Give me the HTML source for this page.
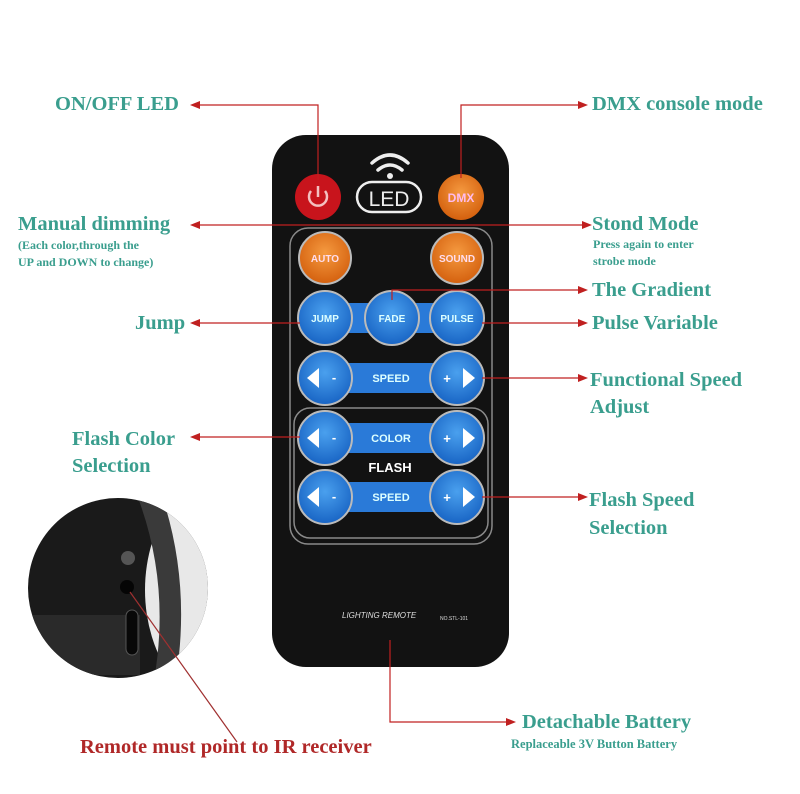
<!DOCTYPE html>
<html><head><style>
body{margin:0;width:800px;height:794px;background:#fff;overflow:hidden;position:relative;font-family:"Liberation Serif",serif}
.t{position:absolute;color:#3a9e8e;font-weight:bold;font-size:20.5px;white-space:nowrap}
.s{position:absolute;color:#3a9e8e;font-weight:bold;font-size:12px;line-height:17px;white-space:nowrap}
</style></head><body>
<svg width="800" height="794" style="position:absolute;left:0;top:0" font-family="Liberation Sans, sans-serif">
<defs>
<radialGradient id="bl" cx="50%" cy="40%" r="60%"><stop offset="0" stop-color="#4aa0ee"/><stop offset="1" stop-color="#1864c4"/></radialGradient>
<radialGradient id="or" cx="50%" cy="40%" r="60%"><stop offset="0" stop-color="#f59a40"/><stop offset="1" stop-color="#d4600e"/></radialGradient>
</defs>
<clipPath id="cc"><circle cx="118" cy="588" r="90"/></clipPath>
<g clip-path="url(#cc)">
<rect x="20" y="490" width="200" height="200" fill="#1a1a1a"/>
<ellipse cx="240" cy="590" rx="95" ry="125" fill="#e8e8e8"/>
<path d="M135 490 Q175 590 150 700 L172 700 Q195 590 160 490Z" fill="#3a3a3a"/>
<rect x="30" y="615" width="110" height="60" fill="#2a2a2a"/>
<circle cx="128" cy="558" r="7" fill="#555"/>
<circle cx="127" cy="587" r="7" fill="#050505"/>
<rect x="126" y="610" width="12" height="45" rx="6" fill="#080808" stroke="#555"/>
</g>
<line x1="130" y1="592" x2="237" y2="742" stroke="#a03030" stroke-width="1.2"/>
<rect x="272" y="135" width="237" height="532" rx="34" fill="#121212"/>
<rect x="290" y="228" width="202" height="316" rx="18" fill="none" stroke="#8a8a8a" stroke-width="1.5"/>
<rect x="294" y="408" width="194" height="130" rx="16" fill="none" stroke="#8a8a8a" stroke-width="1.5"/>
<g fill="none" stroke="#eee" stroke-width="3.5" stroke-linecap="round">
<path d="M372 163 Q390 147 408 163"/><path d="M378 170 Q390 160 402 170"/></g>
<circle cx="390" cy="176" r="3" fill="#eee"/>
<rect x="357" y="182" width="64" height="30" rx="15" fill="none" stroke="#eee" stroke-width="2.5"/>
<text x="389" y="206" font-size="21" fill="#eee" text-anchor="middle">LED</text>
<circle cx="318" cy="197" r="23" fill="#c8141c"/>
<path d="M311 191 A9 9 0 1 0 325 191" fill="none" stroke="#f4c0c0" stroke-width="2.5"/><line x1="318" y1="186" x2="318" y2="197" stroke="#f4c0c0" stroke-width="2.5"/>
<circle cx="461" cy="197" r="23" fill="url(#or)"/>
<text x="461" y="202" font-size="12" font-weight="bold" fill="#fbe" text-anchor="middle">DMX</text>
<g stroke="#bbb" stroke-width="2">
<circle cx="325" cy="258" r="26" fill="url(#or)"/><circle cx="457" cy="258" r="26" fill="url(#or)"/>
</g>
<g font-size="10" font-weight="bold" fill="#fde" text-anchor="middle"><text x="325" y="262">AUTO</text><text x="457" y="262">SOUND</text></g>
<g fill="#2a7ad8"><rect x="325" y="303" width="132" height="30"/><rect x="325" y="363" width="132" height="30"/><rect x="325" y="423" width="132" height="30"/><rect x="325" y="482" width="132" height="30"/></g>
<g stroke="#bbb" stroke-width="2" fill="url(#bl)">
<circle cx="325" cy="318" r="27"/><circle cx="392" cy="318" r="27"/><circle cx="457" cy="318" r="27"/>
<circle cx="325" cy="378" r="27"/><circle cx="457" cy="378" r="27"/>
<circle cx="325" cy="438" r="27"/><circle cx="457" cy="438" r="27"/>
<circle cx="325" cy="497" r="27"/><circle cx="457" cy="497" r="27"/>
</g>
<g font-size="10" font-weight="bold" fill="#dff" text-anchor="middle">
<text x="325" y="322">JUMP</text><text x="392" y="322">FADE</text><text x="457" y="322">PULSE</text>
<text x="391" y="382" font-size="11">SPEED</text><text x="391" y="442" font-size="11">COLOR</text><text x="391" y="501" font-size="11">SPEED</text></g>
<text x="390" y="472" font-size="13" font-weight="bold" fill="#fff" text-anchor="middle">FLASH</text>
<g fill="#fff">
<path d="M307 378 L319 368 L319 388Z"/><path d="M307 438 L319 428 L319 448Z"/><path d="M307 497 L319 487 L319 507Z"/>
<path d="M475 378 L463 368 L463 388Z"/><path d="M475 438 L463 428 L463 448Z"/><path d="M475 497 L463 487 L463 507Z"/>
</g>
<g font-size="13" font-weight="bold" fill="#fff" text-anchor="middle">
<text x="334" y="382">-</text><text x="334" y="442">-</text><text x="334" y="501">-</text>
<text x="447" y="383">+</text><text x="447" y="443">+</text><text x="447" y="502">+</text></g>
<text x="342" y="618" font-size="8" font-style="italic" fill="#ddd">LIGHTING   REMOTE</text>
<text x="440" y="620" font-size="5" fill="#ddd">NO.STL-101</text>
<g stroke="#c02020" stroke-width="1.2" fill="none">
<polyline points="198,105 318,105 318,180"/>
<polyline points="461,178 461,105 580,105"/>
<line x1="196" y1="225" x2="584" y2="225"/>
<polyline points="392,300 392,290 580,290"/>
<line x1="196" y1="323" x2="300" y2="323"/>
<line x1="482" y1="323" x2="580" y2="323"/>
<line x1="482" y1="378" x2="580" y2="378"/>
<line x1="196" y1="437" x2="300" y2="437"/>
<line x1="482" y1="497" x2="580" y2="497"/>
<polyline points="390,640 390,722 508,722"/>
</g>
<g fill="#c02020">
<path d="M190 105 L200 101 L200 109Z"/><path d="M588 105 L578 101 L578 109Z"/>
<path d="M190 225 L200 221 L200 229Z"/><path d="M592 225 L582 221 L582 229Z"/>
<path d="M588 290 L578 286 L578 294Z"/>
<path d="M190 323 L200 319 L200 327Z"/><path d="M588 323 L578 319 L578 327Z"/>
<path d="M588 378 L578 374 L578 382Z"/>
<path d="M190 437 L200 433 L200 441Z"/><path d="M588 497 L578 493 L578 501Z"/>
<path d="M516 722 L506 718 L506 726Z"/>
</g>
</svg>
<div class="t" style="left:55px;top:93px">ON/OFF LED</div>
<div class="t" style="left:592px;top:93px">DMX console mode</div>
<div class="t" style="left:18px;top:213px">Manual dimming</div>
<div class="s" style="left:18px;top:237px">(Each color,through the<br>UP and DOWN to change)</div>
<div class="t" style="left:592px;top:213px">Stond Mode</div>
<div class="s" style="left:593px;top:236px">Press again to enter<br>strobe mode</div>
<div class="t" style="left:592px;top:279px">The Gradient</div>
<div class="t" style="left:135px;top:312px">Jump</div>
<div class="t" style="left:592px;top:312px">Pulse Variable</div>
<div class="t" style="left:590px;top:367px;line-height:27px">Functional Speed<br>Adjust</div>
<div class="t" style="left:72px;top:426px;line-height:27px">Flash Color<br>Selection</div>
<div class="t" style="left:589px;top:486px;line-height:28px">Flash Speed<br>Selection</div>
<div class="t" style="left:522px;top:711px">Detachable Battery</div>
<div class="s" style="left:511px;top:736px;font-size:12.5px">Replaceable 3V Button Battery</div>
<div class="t" style="left:80px;top:736px;color:#b02828">Remote must point to IR receiver</div>
</body></html>
